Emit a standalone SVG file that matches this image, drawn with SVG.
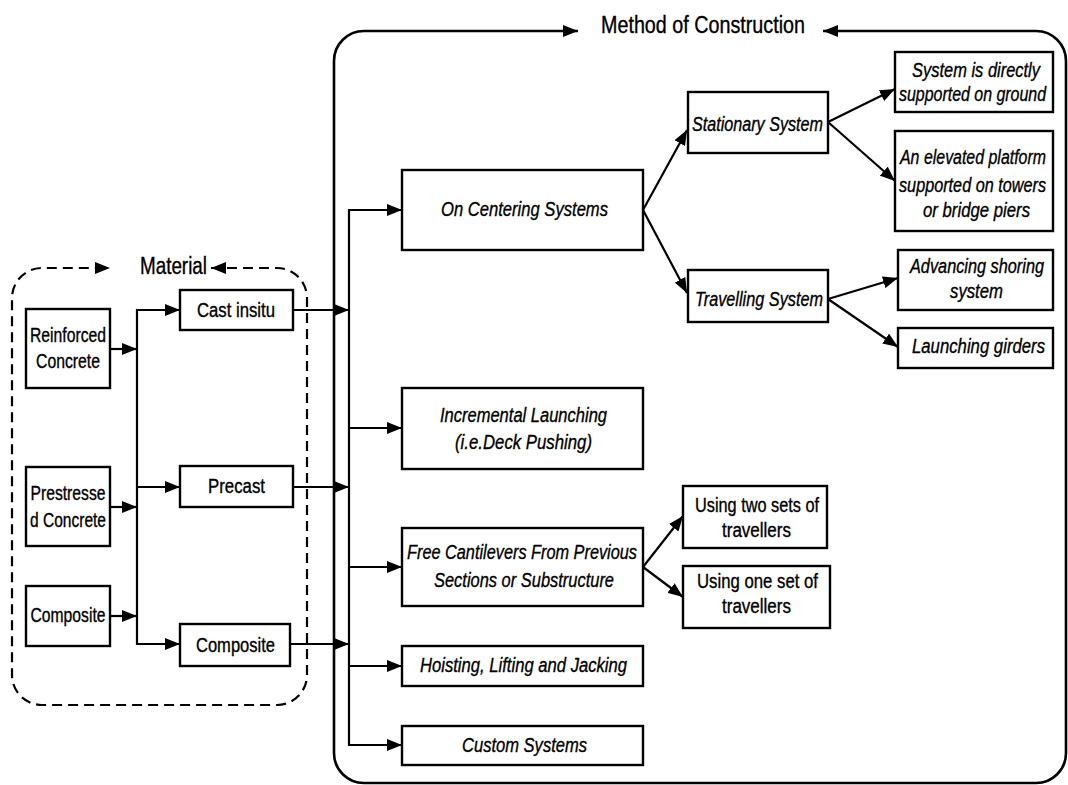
<svg xmlns="http://www.w3.org/2000/svg" width="1068" height="785" viewBox="0 0 1068 785">
  <defs>
    <style>
      .box { fill: #fff; stroke: #000; stroke-width: 2.4; }
      .t { font-family: "Liberation Sans", Arial, sans-serif; font-size: 20px; fill: #000; stroke: #000; stroke-width: 0.35; text-anchor: middle; }
      .i { font-style: italic; }
      .title { font-size: 23px; }
      .c { fill: none; stroke: #000; stroke-width: 2.2; }
      .frame { fill: none; stroke: #000; stroke-width: 2.6; }
      .dash { fill: none; stroke: #000; stroke-width: 2.2; stroke-dasharray: 10 6; }
    </style>
    <marker id="ah" viewBox="0 0 15 12" refX="15" refY="6" markerWidth="15" markerHeight="12" markerUnits="userSpaceOnUse" orient="auto-start-reverse">
      <path d="M0,0 L15,6 L0,12 Z" fill="#000"/>
    </marker>
  </defs>

  <rect width="1068" height="785" fill="#fff"/>

  <!-- group frames -->
  <g id="frame-method">
    <path class="frame" d="M823 31 H1036 A30 30 0 0 1 1066 61 V753 A30 30 0 0 1 1036 783 H364 A30 30 0 0 1 334 753 V61 A30 30 0 0 1 364 31 H578" marker-start="url(#ah)" marker-end="url(#ah)"/>
    <text class="t title" x="703" y="33" textLength="204" lengthAdjust="spacingAndGlyphs">Method of Construction</text>
  </g>
  <g id="frame-material">
    <path class="dash" d="M211 268 H277 A30 30 0 0 1 307 298 V675 A30 30 0 0 1 277 705 H42 A30 30 0 0 1 12 675 V298 A30 30 0 0 1 42 268 H110" marker-start="url(#ah)" marker-end="url(#ah)"/>
    <text class="t title" x="173.5" y="274" textLength="67" lengthAdjust="spacingAndGlyphs">Material</text>
  </g>

  <!-- connectors -->
  <g id="connectors">
    <!-- material inputs to collector -->
    <line class="c" x1="110" y1="349" x2="137" y2="349" marker-end="url(#ah)"/>
    <line class="c" x1="110" y1="507" x2="137" y2="507" marker-end="url(#ah)"/>
    <line class="c" x1="110" y1="616" x2="137" y2="616" marker-end="url(#ah)"/>
    <line class="c" x1="137" y1="309" x2="137" y2="645"/>
    <line class="c" x1="137" y1="310" x2="180" y2="310" marker-end="url(#ah)"/>
    <line class="c" x1="137" y1="487" x2="180" y2="487" marker-end="url(#ah)"/>
    <line class="c" x1="137" y1="644" x2="180" y2="644" marker-end="url(#ah)"/>
    <!-- material types to method bus -->
    <line class="c" x1="293" y1="310" x2="349" y2="310" marker-end="url(#ah)"/>
    <line class="c" x1="293" y1="487" x2="349" y2="487" marker-end="url(#ah)"/>
    <line class="c" x1="290" y1="644" x2="349" y2="644" marker-end="url(#ah)"/>
    <line class="c" x1="349" y1="209" x2="349" y2="746"/>
    <line class="c" x1="349" y1="210" x2="402" y2="210" marker-end="url(#ah)"/>
    <line class="c" x1="349" y1="428" x2="402" y2="428" marker-end="url(#ah)"/>
    <line class="c" x1="349" y1="567" x2="402" y2="567" marker-end="url(#ah)"/>
    <line class="c" x1="349" y1="666" x2="402" y2="666" marker-end="url(#ah)"/>
    <line class="c" x1="349" y1="745" x2="402" y2="745" marker-end="url(#ah)"/>
    <!-- centering branches -->
    <line class="c" x1="643" y1="210" x2="687" y2="130" marker-end="url(#ah)"/>
    <line class="c" x1="643" y1="210" x2="687" y2="293" marker-end="url(#ah)"/>
    <line class="c" x1="828" y1="122" x2="895" y2="89" marker-end="url(#ah)"/>
    <line class="c" x1="828" y1="122" x2="895" y2="181" marker-end="url(#ah)"/>
    <line class="c" x1="828" y1="299" x2="898" y2="278" marker-end="url(#ah)"/>
    <line class="c" x1="828" y1="299" x2="898" y2="347" marker-end="url(#ah)"/>
    <!-- cantilever branches -->
    <line class="c" x1="643" y1="567" x2="683" y2="516" marker-end="url(#ah)"/>
    <line class="c" x1="643" y1="567" x2="683" y2="597" marker-end="url(#ah)"/>
  </g>

  <!-- material nodes -->
  <g id="n-reinforced">
    <rect class="box" x="26" y="309" width="84" height="79"/>
    <text class="t" x="68" y="342" textLength="76" lengthAdjust="spacingAndGlyphs">Reinforced</text>
    <text class="t" x="68" y="368" textLength="64" lengthAdjust="spacingAndGlyphs">Concrete</text>
  </g>
  <g id="n-prestressed">
    <rect class="box" x="26" y="467" width="84" height="79"/>
    <text class="t" x="68" y="500" textLength="75" lengthAdjust="spacingAndGlyphs">Prestresse</text>
    <text class="t" x="68" y="527" textLength="76" lengthAdjust="spacingAndGlyphs">d Concrete</text>
  </g>
  <g id="n-composite-mat">
    <rect class="box" x="26" y="586" width="84" height="60"/>
    <text class="t" x="68" y="622" textLength="75" lengthAdjust="spacingAndGlyphs">Composite</text>
  </g>
  <g id="n-cast">
    <rect class="box" x="180" y="290" width="113" height="40"/>
    <text class="t" x="236" y="317" textLength="78" lengthAdjust="spacingAndGlyphs">Cast insitu</text>
  </g>
  <g id="n-precast">
    <rect class="box" x="180" y="466" width="113" height="41"/>
    <text class="t" x="236.5" y="493" textLength="57" lengthAdjust="spacingAndGlyphs">Precast</text>
  </g>
  <g id="n-composite">
    <rect class="box" x="180" y="624" width="110" height="42"/>
    <text class="t" x="235.5" y="652" textLength="79" lengthAdjust="spacingAndGlyphs">Composite</text>
  </g>

  <!-- construction methods -->
  <g id="n-centering">
    <rect class="box" x="402" y="170" width="241" height="80"/>
    <text class="t i" x="524.5" y="216" textLength="167" lengthAdjust="spacingAndGlyphs">On Centering Systems</text>
  </g>
  <g id="n-incremental">
    <rect class="box" x="402" y="388" width="241" height="81"/>
    <text class="t i" x="523.5" y="422" textLength="167" lengthAdjust="spacingAndGlyphs">Incremental Launching</text>
    <text class="t i" x="523.5" y="449" textLength="137" lengthAdjust="spacingAndGlyphs">(i.e.Deck Pushing)</text>
  </g>
  <g id="n-cantilever">
    <rect class="box" x="402" y="528" width="241" height="78"/>
    <text class="t i" x="522" y="559" textLength="230" lengthAdjust="spacingAndGlyphs">Free Cantilevers From Previous</text>
    <text class="t i" x="524" y="587" textLength="180" lengthAdjust="spacingAndGlyphs">Sections or Substructure</text>
  </g>
  <g id="n-hoisting">
    <rect class="box" x="402" y="646" width="241" height="40"/>
    <text class="t i" x="523.5" y="672" textLength="207" lengthAdjust="spacingAndGlyphs">Hoisting, Lifting and Jacking</text>
  </g>
  <g id="n-custom">
    <rect class="box" x="402" y="726" width="241" height="39"/>
    <text class="t i" x="524.5" y="752" textLength="125" lengthAdjust="spacingAndGlyphs">Custom Systems</text>
  </g>

  <!-- centering sub-systems -->
  <g id="n-stationary">
    <rect class="box" x="688" y="92" width="140" height="61"/>
    <text class="t i" x="757.5" y="131" textLength="131" lengthAdjust="spacingAndGlyphs">Stationary System</text>
  </g>
  <g id="n-travelling">
    <rect class="box" x="688" y="270" width="140" height="52"/>
    <text class="t i" x="759" y="306" textLength="128" lengthAdjust="spacingAndGlyphs">Travelling System</text>
  </g>
  <!-- right column labels are condensed with a horizontal scale -->
  <g id="n-ground">
    <rect class="box" x="895" y="52" width="158" height="60"/>
    <text class="t i" transform="translate(976 77) scale(0.8 1)" textLength="160" lengthAdjust="spacingAndGlyphs">System is directly</text>
    <text class="t i" transform="translate(972.5 101) scale(0.8 1)" textLength="183.75" lengthAdjust="spacingAndGlyphs">supported on ground</text>
  </g>
  <g id="n-elevated">
    <rect class="box" x="895" y="131" width="158" height="100"/>
    <text class="t i" transform="translate(973 164) scale(0.8 1)" textLength="182.5" lengthAdjust="spacingAndGlyphs">An elevated platform</text>
    <text class="t i" transform="translate(972.5 192) scale(0.8 1)" textLength="183.75" lengthAdjust="spacingAndGlyphs">supported on towers</text>
    <text class="t i" transform="translate(976.5 217) scale(0.8 1)" textLength="133.75" lengthAdjust="spacingAndGlyphs">or bridge piers</text>
  </g>
  <g id="n-advancing">
    <rect class="box" x="898" y="250" width="155" height="60"/>
    <text class="t i" transform="translate(977 273) scale(0.8 1)" textLength="167.5" lengthAdjust="spacingAndGlyphs">Advancing shoring</text>
    <text class="t i" transform="translate(976.5 298) scale(0.8 1)" textLength="66.25" lengthAdjust="spacingAndGlyphs">system</text>
  </g>
  <g id="n-launching">
    <rect class="box" x="898" y="328" width="155" height="40"/>
    <text class="t i" transform="translate(978.5 353) scale(0.8 1)" textLength="166.25" lengthAdjust="spacingAndGlyphs">Launching girders</text>
  </g>

  <!-- cantilever sub-systems -->
  <g id="n-two-sets">
    <rect class="box" x="683" y="486" width="144" height="62"/>
    <text class="t" x="757" y="512" textLength="124" lengthAdjust="spacingAndGlyphs">Using two sets of</text>
    <text class="t" x="756.5" y="537" textLength="69" lengthAdjust="spacingAndGlyphs">travellers</text>
  </g>
  <g id="n-one-set">
    <rect class="box" x="683" y="566" width="147" height="62"/>
    <text class="t" x="757.5" y="588" textLength="121" lengthAdjust="spacingAndGlyphs">Using one set of</text>
    <text class="t" x="756.5" y="613" textLength="69" lengthAdjust="spacingAndGlyphs">travellers</text>
  </g>
</svg>
